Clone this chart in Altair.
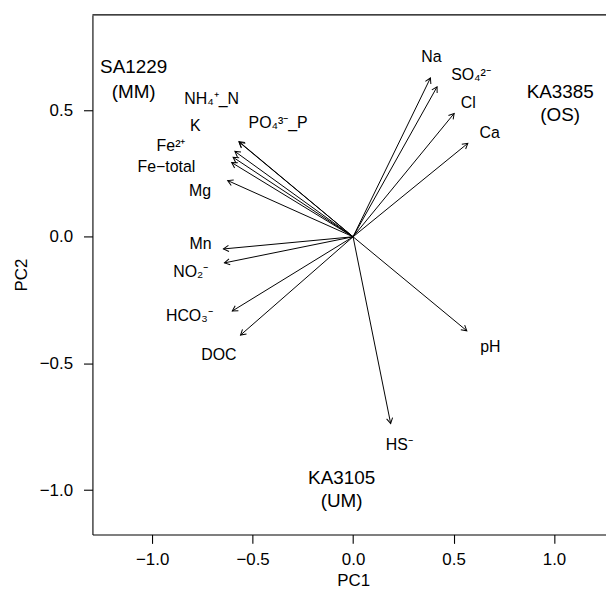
import altair as alt
import pandas as pd
import numpy as np

# ---- data ----
var_names = ["NH₄⁺_N", "PO₄³⁻_P", "K", "Fe²⁺", "Fe−total", "Mg", "Mn", "NO₂⁻",
             "HCO₃⁻", "DOC", "Na", "SO₄²⁻", "Cl", "Ca", "HS⁻", "pH"]
var_pc1 = [-0.566, -0.568, -0.588, -0.597, -0.604, -0.624, -0.645, -0.640,
           -0.601, -0.560, 0.385, 0.418, 0.503, 0.571, 0.187, 0.566]
var_pc2 = [0.373, 0.376, 0.337, 0.314, 0.293, 0.222, -0.048, -0.103,
           -0.293, -0.388, 0.627, 0.592, 0.487, 0.369, -0.737, -0.371]
label_pc1 = [-0.704, -0.373, -0.785, -0.906, -0.929, -0.761, -0.759, -0.808,
             -0.815, -0.668, 0.390, 0.587, 0.573, 0.680, 0.230, 0.683]
label_pc2 = [0.542, 0.448, 0.439, 0.357, 0.275, 0.180, -0.029, -0.140,
             -0.314, -0.467, 0.710, 0.638, 0.527, 0.409, -0.824, -0.434]

sample_line1 = ["SA1229", "KA3385", "KA3105"]
sample_line2 = ["(MM)", "(OS)", "(UM)"]
sample_pc1 = [-1.092, 1.031, -0.057]
sample_pc2_line1 = [0.671, 0.570, -0.952]
sample_pc2_line2 = [0.573, 0.482, -1.044]

x_ticks = [-1.0, -0.5, 0.0, 0.5, 1.0]
y_ticks = [-1.0, -0.5, 0.0, 0.5]

# ---- layout ----
X_DOM = [-1.297, 1.2587]
Y_DOM = [-1.175, 0.876]
W, H = 517, 523
FONT = "Liberation Sans"

sx = W / (X_DOM[1] - X_DOM[0])
sy = H / (Y_DOM[1] - Y_DOM[0])

arrows = pd.DataFrame({
    "name": var_names,
    "x0": 0.0, "y0": 0.0,
    "pc1": var_pc1, "pc2": var_pc2,
})
arrows["angle"] = np.mod(np.degrees(np.arctan2(arrows["pc1"] * sx, arrows["pc2"] * sy)), 360)

labels = pd.DataFrame({"name": var_names, "lx": label_pc1, "ly": label_pc2})
samples = pd.DataFrame({
    "text": sample_line1 + sample_line2,
    "sx": sample_pc1 + sample_pc1,
    "sy": sample_pc2_line1 + sample_pc2_line2,
})
top = pd.DataFrame({"yt": [Y_DOM[1]]})

xscale = alt.Scale(domain=X_DOM, nice=False, zero=False)
yscale = alt.Scale(domain=Y_DOM, nice=False, zero=False)

xaxis = alt.Axis(values=x_ticks, format=".1f", title="PC1", grid=False,
                 tickSize=9, labelPadding=16, labelBaseline="middle",
                 titleX=262.5, titleY=46, titleBaseline="middle", titleAlign="center")
yaxis = alt.Axis(values=y_ticks, format=".1f", title="PC2", grid=False,
                 tickSize=9, labelPadding=11, titleX=-71, titleBaseline="middle",
                 titleAngle=270)

lines = alt.Chart(arrows).mark_rule(color="black", strokeWidth=1.0).encode(
    x=alt.X("x0:Q", scale=xscale, axis=xaxis),
    y=alt.Y("y0:Q", scale=yscale, axis=yaxis),
    x2="pc1:Q",
    y2="pc2:Q",
)

heads = alt.Chart(arrows).mark_point(
    shape="M -0.5 0.866 L 0 0 L 0.5 0.866",
    filled=False, color="black", strokeWidth=1.0, size=150, opacity=1,
).encode(
    x=alt.X("pc1:Q", scale=xscale),
    y=alt.Y("pc2:Q", scale=yscale),
    angle=alt.Angle("angle:Q", scale=None),
)

var_text = alt.Chart(labels).mark_text(
    font=FONT, fontSize=16, color="black", align="center", baseline="middle"
).encode(
    x=alt.X("lx:Q", scale=xscale),
    y=alt.Y("ly:Q", scale=yscale),
    text="name:N",
)

sample_text = alt.Chart(samples).mark_text(
    font=FONT, fontSize=19, color="black", align="center", baseline="middle"
).encode(
    x=alt.X("sx:Q", scale=xscale),
    y=alt.Y("sy:Q", scale=yscale),
    text="text:N",
)

top_line = alt.Chart(top).mark_rule(color="black", strokeWidth=1.1).encode(
    y=alt.Y("yt:Q", scale=yscale),
)

chart = alt.layer(lines, heads, var_text, sample_text, top_line).properties(
    width=W, height=H,
    autosize=alt.AutoSizeParams(type="none"),
    padding={"left": 85, "top": 5, "right": 0, "bottom": 54},
    background="white",
).configure_view(stroke=None).configure_axis(
    domainColor="black", tickColor="black", labelColor="black", titleColor="black",
    domainWidth=1.1, tickWidth=1.1,
    labelFont=FONT, titleFont=FONT, labelFontSize=17, titleFontSize=17,
    titleFontWeight="normal",
)

chart.save("out.html", embed_options={"renderer": "svg", "actions": False})
